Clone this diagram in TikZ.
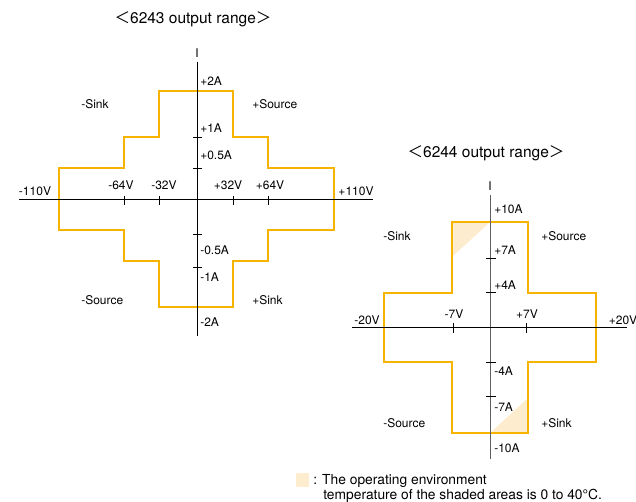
\documentclass[tikz,border=0pt]{standalone}
\usepackage{fontspec}
\setmainfont{TeX Gyre Heros}
\newfontfamily\cjk{Noto Sans CJK JP}

\definecolor{rangeorange}{RGB}{246,180,0}
\definecolor{shadefill}{RGB}{253,237,206}
\definecolor{axisgrey}{RGB}{95,95,95}

\begin{document}
\begin{tikzpicture}[x=1pt, y=-1pt, semithick,
  lbl/.style={inner sep=0pt, text height=8.6pt, text depth=0pt, font=\fontsize{12}{14}\selectfont},
  notetext/.style={inner sep=0pt, text height=9.8pt, text depth=0pt, font=\fontsize{13.8}{16}\selectfont},
  ttl/.style={inner sep=0pt, text height=11.2pt, text depth=0pt, font=\fontsize{15.5}{18}\selectfont},
  axisline/.style={line width=0.9pt},
  tickmark/.style={line width=0.9pt},
  rangeline/.style={draw=rangeorange, line width=2.9pt, line join=miter},
  shadearea/.style={fill=shadefill, draw=none}]

\useasboundingbox (0,0) rectangle (636,502);

% 6243
\node (title1) at (193, 18) [ttl] {{\cjk ＜}6243 output range{\cjk ＞}};

\coordinate (vtop1)   at (197, 62);
\coordinate (vbot1)   at (197, 336);
\coordinate (hleft1)  at (19, 199.5);
\coordinate (hright1) at (373, 199.5);

\draw[rangeline] (59,168) -- (124,168) -- (124,137) -- (159,137) -- (159,91) -- (233,91) -- (233,137) -- (268,137) -- (268,168) -- (334,168)
  -- (334,230) -- (268,230) -- (268,261) -- (233,261) -- (233,307) -- (159,307) -- (159,261) -- (124,261) -- (124,230) -- (59,230) -- cycle;

\draw[axisline] (vtop1) -- (vbot1);
\draw[axisline] (hleft1) -- (hright1);

\draw[tickmark] (124,196) -- (124,205);
\draw[tickmark] (159,196) -- (159,205);
\draw[tickmark] (233,196) -- (233,205);
\draw[tickmark] (268,196) -- (268,205);
\draw[tickmark] (193,137.7) -- (202,137.7);
\draw[tickmark] (193,168.3) -- (202,168.3);
\draw[tickmark] (193,234) -- (202,234);
\draw[tickmark] (193,267) -- (202,267);

\node (cur1)   at (197, 53.5) [lbl] {I};
\node (pa1)    at (200, 81)   [lbl, anchor=west] {+2A};
\node (pb1)    at (200, 128)  [lbl, anchor=west] {+1A};
\node (pc1)    at (200, 155)  [lbl, anchor=west] {+0.5A};
\node (na1)    at (200, 250)  [lbl, anchor=west] {-0.5A};
\node (nb1)    at (200, 277)  [lbl, anchor=west] {-1A};
\node (nc1)    at (200, 322)  [lbl, anchor=west] {-2A};

\node (q2a)    at (81, 104)   [lbl, anchor=west] {-Sink};
\node (q1a)    at (252, 104)  [lbl, anchor=west] {+Source};
\node (q3a)    at (81, 300)   [lbl, anchor=west] {-Source};
\node (q4a)    at (252, 300)  [lbl, anchor=west] {+Sink};

\node (vn3a)   at (35, 191.5)  [lbl] {-110V};
\node (vn2a)   at (121, 185)   [lbl] {-64V};
\node (vn1a)   at (164, 185)   [lbl] {-32V};
\node (vp1a)   at (228, 185)   [lbl] {+32V};
\node (vp2a)   at (270, 185)   [lbl] {+64V};
\node (vp3a)   at (356, 191.5) [lbl] {+110V};

% 6244
\node (title2) at (486, 151.5) [ttl] {{\cjk ＜}6244 output range{\cjk ＞}};

\coordinate (vtop2)   at (490, 195);
\coordinate (vbot2)   at (490, 459);
\coordinate (hleft2)  at (352, 327.7);
\coordinate (hright2) at (627, 327.7);

\path[shadearea] (452,222) -- (490,222) -- (452,257) -- cycle;
\path[shadearea] (490,433) -- (528,433) -- (528,398) -- cycle;

\draw[rangeline] (384,293) -- (452,293) -- (452,222) -- (528,222) -- (528,293) -- (596,293)
  -- (596,362) -- (528,362) -- (528,433) -- (452,433) -- (452,362) -- (384,362) -- cycle;

\draw[axisline, axisgrey] (vtop2) -- (vbot2);
\draw[axisline] (hleft2) -- (hright2);

\draw[tickmark] (453,323) -- (453,333);
\draw[tickmark] (526,323) -- (526,333);
\draw[tickmark] (486,258.3) -- (496,258.3);
\draw[tickmark] (486,292.7) -- (496,292.7);
\draw[tickmark] (486,362.3) -- (496,362.3);
\draw[tickmark] (486,396.7) -- (496,396.7);

\node (cur2)   at (490, 186)  [lbl] {I};
\node (pa2)    at (494, 209)  [lbl, anchor=west] {+10A};
\node (pb2)    at (494, 250)  [lbl, anchor=west] {+7A};
\node (pc2)    at (494, 285)  [lbl, anchor=west] {+4A};
\node (na2)    at (494, 371)  [lbl, anchor=west] {-4A};
\node (nb2)    at (494, 407)  [lbl, anchor=west] {-7A};
\node (nc2)    at (494, 448)  [lbl, anchor=west] {-10A};

\node (q2b)    at (383, 236)  [lbl, anchor=west] {-Sink};
\node (q1b)    at (541, 236)  [lbl, anchor=west] {+Source};
\node (q3b)    at (383, 423)  [lbl, anchor=west] {-Source};
\node (q4b)    at (541, 423)  [lbl, anchor=west] {+Sink};

\node (vn2b)   at (367, 320)  [lbl] {-20V};
\node (vn1b)   at (454, 314)  [lbl] {-7V};
\node (vp1b)   at (527, 314)  [lbl] {+7V};
\node (vp2b)   at (623, 320)  [lbl] {+20V};

% legend
\path[shadearea] (296,473) rectangle (309,487);
\node (note1) at (313, 479.5) [notetext, anchor=west] {: The operating environment};
\node (note2) at (323, 494.5) [notetext, anchor=west] {temperature of the shaded areas is 0 to 40°C.};

\end{tikzpicture}
\end{document}
